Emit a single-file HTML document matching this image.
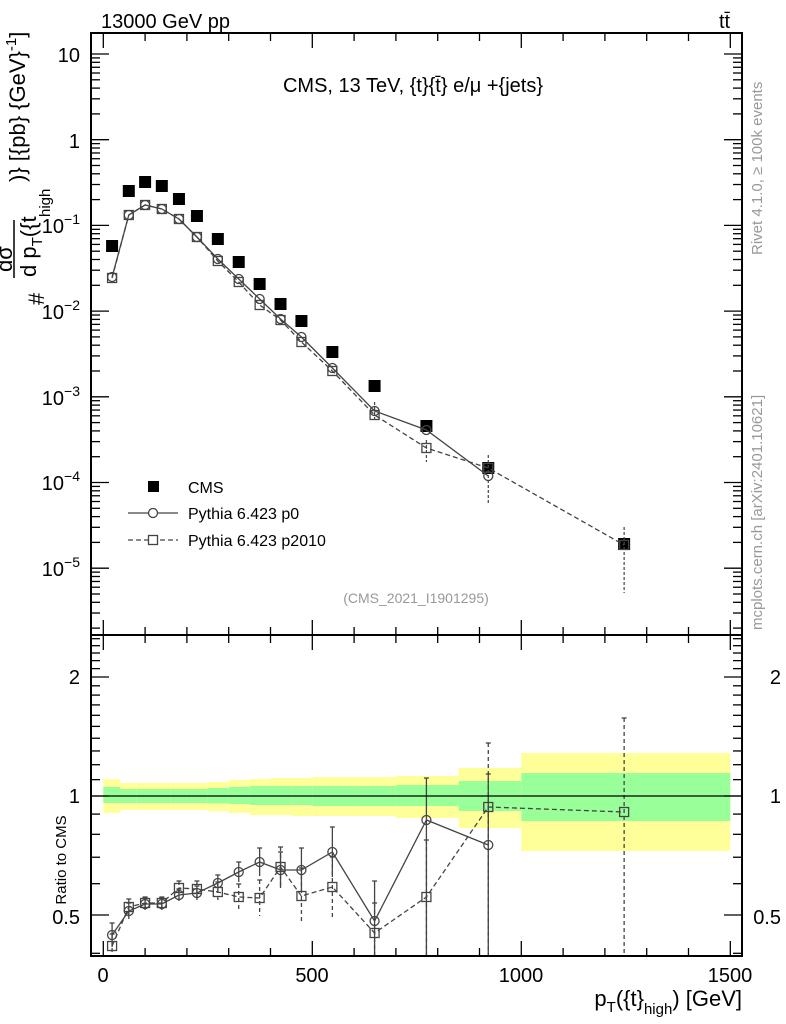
<!DOCTYPE html>
<html><head><meta charset="utf-8"><style>
html,body{margin:0;padding:0;background:#fff;}
svg{display:block;font-family:"Liberation Sans",sans-serif;}
</style></head><body>
<svg id="s" width="786" height="1024" viewBox="0 0 786 1024" xmlns="http://www.w3.org/2000/svg">
<g id="bands"></g>
<g id="ticks" stroke="#000" stroke-width="1.3"></g>
<g id="data"></g>
<rect x="91" y="33" width="651" height="602" fill="none" stroke="#000" stroke-width="2"/>
<rect x="91" y="635" width="651" height="321" fill="none" stroke="#000" stroke-width="2"/>
<line x1="91" y1="796" x2="742" y2="796" stroke="#000" stroke-width="1.3"/>
<text x="101" y="28" font-size="20">13000 GeV pp</text>
<text x="719" y="28" font-size="20">tt̄</text>
<text x="413" y="92" font-size="20" text-anchor="middle">CMS, 13 TeV, {t}{t̄} e/μ +{jets}</text>
<text x="416" y="603" font-size="14" fill="#999" text-anchor="middle">(CMS_2021_I1901295)</text>
<g font-size="20" text-anchor="end">
<text x="80" y="62">10</text>
<text x="80" y="148">1</text>
<text x="80" y="233">10<tspan font-size="14" dy="-9">−1</tspan></text>
<text x="80" y="319">10<tspan font-size="14" dy="-9">−2</tspan></text>
<text x="80" y="405">10<tspan font-size="14" dy="-9">−3</tspan></text>
<text x="80" y="490">10<tspan font-size="14" dy="-9">−4</tspan></text>
<text x="80" y="576">10<tspan font-size="14" dy="-9">−5</tspan></text>
<text x="80" y="684">2</text>
<text x="80" y="803">1</text>
<text x="80" y="924">0.5</text>
<text x="781" y="684">2</text>
<text x="781" y="803">1</text>
<text x="781" y="924">0.5</text>
</g>
<g font-size="20" text-anchor="middle">
<text x="103" y="982">0</text>
<text x="312" y="982">500</text>
<text x="521" y="982">1000</text>
<text x="730" y="982">1500</text>
</g>
<text x="742" y="1006" font-size="22" text-anchor="end">p<tspan font-size="15" dy="6">T</tspan><tspan dy="-6">({t}</tspan><tspan font-size="15" dy="8">high</tspan><tspan dy="-8">) [GeV]</tspan></text>
<text transform="translate(66,860) rotate(-90)" font-size="15" text-anchor="middle">Ratio to CMS</text>
<text transform="translate(44,305) rotate(-90)" font-size="22">#</text>
<line x1="14" y1="220" x2="14" y2="278" stroke="#000" stroke-width="1.5"/>
<text transform="translate(12,272) rotate(-90)" font-size="22">dσ</text>
<text transform="translate(36,277) rotate(-90)" font-size="22">d p<tspan font-size="15" dy="6">T</tspan><tspan dy="-6">({t</tspan></text>
<text transform="translate(50,217) rotate(-90)" font-size="15">high</text>
<text transform="translate(25,182) rotate(-90)" font-size="22">)} [{pb} {GeV}<tspan font-size="15" dy="-9">-1</tspan><tspan dy="9">]</tspan></text>
<text transform="translate(762,255) rotate(-90)" font-size="15" fill="#999">Rivet 4.1.0, ≥ 100k events</text>
<text transform="translate(762,630) rotate(-90)" font-size="15" fill="#999">mcplots.cern.ch [arXiv:2401.10621]</text>
<g font-size="16">
<rect x="148" y="481" width="11" height="11" fill="#000"/>
<text x="188" y="493">CMS</text>
<line x1="128" y1="513" x2="178" y2="513" stroke="#444" stroke-width="1.3"/>
<circle cx="153" cy="513" r="4.5" fill="#fff" stroke="#444" stroke-width="1.3"/>
<text x="188" y="519">Pythia 6.423 p0</text>
<line x1="128" y1="540" x2="178" y2="540" stroke="#444" stroke-width="1.3" stroke-dasharray="5,3"/>
<rect x="148.5" y="535.5" width="9" height="9" fill="#fff" stroke="#444" stroke-width="1.3"/>
<text x="188" y="546">Pythia 6.423 p2010</text>
</g>
</svg>
<script>
var NS="http://www.w3.org/2000/svg";
function el(p,t,a){var e=document.createElementNS(NS,t);for(var k in a)e.setAttribute(k,a[k]);document.getElementById(p).appendChild(e);return e;}
function X(g){return 103.3+0.418*g;}
function Ym(v){return 54-85.7*(Math.log10(v)-1);}
function Yr(r){return 796-395.3*Math.log10(r);}
for(var g=0;g<=1500;g+=100){var x=X(g),L=(g%500==0)?15:8;
 el("ticks","line",{x1:x,y1:33,x2:x,y2:33+L});el("ticks","line",{x1:x,y1:635,x2:x,y2:635-L});
 el("ticks","line",{x1:x,y1:635,x2:x,y2:635+L});el("ticks","line",{x1:x,y1:956,x2:x,y2:956-L});}
for(var d=-6;d<=1;d++)for(var m=1;m<10;m++){var v=m*Math.pow(10,d),y=Ym(v);if(y<34||y>634)continue;var L=m==1?18:9;
 el("ticks","line",{x1:91,y1:y,x2:91+L,y2:y});el("ticks","line",{x1:742,y1:y,x2:742-L,y2:y});}
[0.4,0.5,0.6,0.7,0.8,0.9,1,1.1,1.2,1.3,1.4,1.5,1.6,1.7,1.8,1.9,2,2.1,2.2,2.3,2.4,2.5].forEach(function(r){var y=Yr(r);if(y<636||y>955)return;var L=(r==0.5||r==1||r==2)?18:9;
 el("ticks","line",{x1:91,y1:y,x2:91+L,y2:y});el("ticks","line",{x1:742,y1:y,x2:742-L,y2:y});});
var edges=[0,40,80,120,160,200,250,300,350,400,450,500,600,700,850,1000,1500];
var B=[[779,813,787,803],[783,810,789,803],[783,810,789,803],[783,810,789,803],[783,810,789,803],[783,810,789,803],[782,811,788,803.5],[780,813,787,804],[779,815,786,805],[778,815,786,805],[778,816,786,805],[777,816,786,806],[777,816,786,806],[776,818,785,806],[768,828,781,811],[753,851,773,821]];
for(var i=0;i<16;i++){var x1=X(edges[i]),w=X(edges[i+1])-x1,b=B[i];
 el("bands","rect",{x:x1,y:b[0],width:w,height:b[1]-b[0],fill:"#ffff99"});
 el("bands","rect",{x:x1,y:b[2],width:w,height:b[3]-b[2],fill:"#99ff99"});}
var cx=[21,61,100,140,181,224,274,324,374,424,474,548,649,773,921,1246];
var cy=[246,191,182,186,199,216,239,262,284,304,321,352,386,426,468,544];
cx.forEach(function(g,i){el("data","rect",{x:X(g)-6,y:cy[i]-6,width:12,height:12,fill:"#000"});});
var p0y=[277,215,205,209,219,237,259,279,299,319,337,368,411,430,476];
var p2y=[278,215,205,209,219,237,261,282,305,320,342,371,415,448,468,545];
var r0=[935,911,904,904,895,893,883,872,862,870,870,852,921,820,845];
var r2=[946,907,903,903,888,889,892,897,898,867,896,887,933,897,807,812];
var e0=[12,8,6,6,6,7,8,10,14,18,22,25,40,42,71],e2=[12,8,6,6,7,8,10,13,18,20,28,30,30,57,64,94];
function series(ys,dash,shape,errs){var pts=ys.map(function(y,i){return X(cx[i])+","+y;}).join(" ");
 var a={points:pts,fill:"none",stroke:"#444","stroke-width":1.3};if(dash)a["stroke-dasharray"]="5,3";el("data","polyline",a);
 ys.forEach(function(y,i){var x=X(cx[i]);if(errs){var lo=i>=13?955:Math.min(y+errs[i],955);var ea={x1:x,y1:y-errs[i],x2:x,y2:lo,stroke:"#444","stroke-width":1.3};if(dash)ea["stroke-dasharray"]="4,3";el("data","line",ea);
   el("data","line",{x1:x-2.5,y1:y-errs[i],x2:x+2.5,y2:y-errs[i],stroke:"#444","stroke-width":1.3});}
  if(shape=="c")el("data","circle",{cx:x,cy:y,r:4.5,fill:"none",stroke:"#444","stroke-width":1.3});
  else el("data","rect",{x:x-4.5,y:y-4.5,width:9,height:9,fill:"none",stroke:"#444","stroke-width":1.3});});}
series(p0y,false,"c",null);series(p2y,true,"s",null);
series(r0,false,"c",e0);series(r2,true,"s",e2);
[[X(649),402,422],[X(773),440,462],[X(921),455,503],[X(1246),527,593]].forEach(function(a){el("data","line",{x1:a[0],y1:a[1],x2:a[0],y2:a[2],stroke:"#444","stroke-width":1.2,"stroke-dasharray":"3,2"});});
</script>
</body></html>
